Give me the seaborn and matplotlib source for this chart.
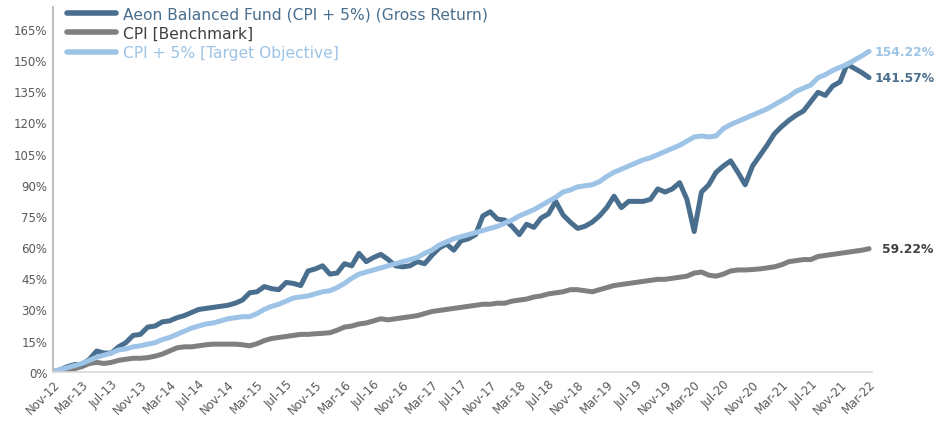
import pandas as pd
import seaborn as sns
import matplotlib.pyplot as plt
from matplotlib.ticker import FuncFormatter

# monthly cumulative returns (%), Nov-12 .. Mar-22
months = pd.date_range("2012-11-01", "2022-03-01", freq="MS")

fund = [0, 1, 2.5, 3.5, 3.5, 6, 10, 9, 9, 12, 14, 17.5, 18, 21.5, 22, 24, 24.5, 26, 27, 28.5,
        30, 30.5, 31, 31.5, 32, 33, 34.5, 38, 38.5, 41, 40, 39.5, 43, 42.5, 41.5, 48.5, 49.5, 51, 47, 47.5,
        52, 51, 57, 53, 55, 56.5, 54, 51, 50.5, 51, 53, 52, 56, 59.5, 61.5, 58.5, 63, 64, 66, 75,
        77, 73.5, 73, 70, 66, 71, 69.5, 74, 76, 82, 75.5, 72, 69, 70, 72, 75, 79, 84.5, 79, 82,
        82, 82, 83, 88, 86.5, 88, 91, 83, 67.5, 86.5, 90, 96, 99, 101.5, 96, 90, 99, 104, 109, 114.5,
        118, 121, 123.5, 125.5, 130, 134.5, 133, 137.5, 139.5, 148, 146, 144, 141.57]

cpi = [0, 0, 0.5, 1.5, 2.5, 4, 4.5, 4, 4.5, 5.5, 6, 6.5, 6.5, 6.8, 7.5, 8.5, 10, 11.5, 12, 12,
       12.5, 13, 13.3, 13.3, 13.3, 13.3, 13, 12.5, 13.5, 15, 16, 16.5, 17, 17.5, 18, 18, 18.3, 18.5, 18.8, 20,
       21.5, 22, 23, 23.5, 24.5, 25.5, 25, 25.5, 26, 26.5, 27, 28, 29, 29.5, 30, 30.5, 31, 31.5, 32, 32.5,
       32.5, 33, 33, 34, 34.5, 35, 36, 36.5, 37.5, 38, 38.5, 39.5, 39.5, 39, 38.5, 39.5, 40.5, 41.5, 42, 42.5,
       43, 43.5, 44, 44.5, 44.5, 45, 45.5, 46, 47.5, 48, 46.5, 46, 47, 48.5, 49, 49, 49.2, 49.5, 50, 50.5,
       51.5, 53, 53.5, 54, 54, 55.5, 56, 56.5, 57, 57.5, 58, 58.5, 59.22]

target = [0, 1, 2, 3, 4, 5.5, 7, 8, 9, 10.5, 11, 12, 12.5, 13.3, 14, 15.5, 16.5, 18, 19.5, 21,
          22, 23, 23.5, 24.5, 25.5, 26, 26.5, 26.5, 28, 30, 31.5, 32.5, 34, 35.5, 36, 36.5, 37.5, 38.5, 39, 40.5,
          42.5, 45, 47, 48, 49, 50, 51, 52, 53, 54, 55, 57, 58.5, 61, 62.5, 64, 65, 66, 67, 68,
          69, 70, 71.5, 73, 75, 76.5, 78, 80, 82, 84, 86.5, 87.5, 89, 89.5, 90, 91.5, 94, 96, 97.5, 99,
          100.5, 102, 103, 104.5, 106, 107.5, 109, 111, 113, 113.5, 113, 113.5, 117, 119, 120.5, 122, 123.5, 125, 126.5, 128.5,
          130.5, 132.5, 135, 136.5, 138, 141.5, 143, 145, 146.5, 148, 150, 152, 154.22]

labels = ["Aeon Balanced Fund (CPI + 5%) (Gross Return)", "CPI [Benchmark]", "CPI + 5% [Target Objective]"]
colors = ["#4a6f8e", "#7f7f7f", "#9dc3e6"]
text_colors = ["#4a6f8e", "#404040", "#9dc3e6"]
yticks = list(range(0, 166, 15))

idx = list(range(len(months)))
df = pd.DataFrame({
    "idx": idx * 3,
    "value": fund + cpi + target,
    "series": [labels[0]] * len(idx) + [labels[1]] * len(idx) + [labels[2]] * len(idx),
})

sns.set_style("white")
plt.rcParams["font.family"] = ["DejaVu Sans"]

fig = plt.figure(figsize=(9.36, 4.27), dpi=100)
ax = fig.add_axes([0.0566, 0.127, 0.875, 0.854])

sns.lineplot(data=df, x="idx", y="value", hue="series", hue_order=[labels[1], labels[0], labels[2]],
             palette={l: c for l, c in zip(labels, colors)}, linewidth=3.6, ax=ax, legend=False)

ax.set_xlim(0, 112.4)
ax.set_ylim(0, 175.5)
ax.set_yticks(yticks)
ax.yaxis.set_major_formatter(FuncFormatter(lambda v, p: f"{v:.0f}%"))
ax.set_xticks(idx[::4])
ax.set_xticklabels([m.strftime("%b-%y") for m in months[::4]], rotation=45, ha="right",
                   rotation_mode="anchor")
ax.tick_params(axis="both", labelsize=8.5, labelcolor="#595959", length=0, pad=4)
ax.set_xlabel("")
ax.set_ylabel("")

for s in ["top", "right"]:
    ax.spines[s].set_visible(False)
ax.spines["left"].set_color("#bfbfbf")
ax.spines["left"].set_linewidth(1.5)
ax.spines["bottom"].set_color("#d9d9d9")
ax.spines["bottom"].set_linewidth(1.2)

# legend
handles = [plt.Line2D([], [], color=c, linewidth=4) for c in colors]
leg = ax.legend(handles, labels, loc="upper left", bbox_to_anchor=(0.01, 1.02), frameon=False,
                fontsize=11.2, handlelength=3.1, handletextpad=0.5, labelspacing=0.3, borderaxespad=0)
for t, c in zip(leg.get_texts(), text_colors):
    t.set_color(c)

# end labels
ax.annotate(f"{target[-1]:.2f}%", (idx[-1], target[-1]), xytext=(4, 0), textcoords="offset points",
            va="center", ha="left", fontsize=8.9, fontweight="bold", color=text_colors[2], annotation_clip=False)
ax.annotate(f"{fund[-1]:.2f}%", (idx[-1], fund[-1]), xytext=(4, 0), textcoords="offset points",
            va="center", ha="left", fontsize=8.9, fontweight="bold", color=text_colors[0], annotation_clip=False)
ax.annotate(f"{cpi[-1]:.2f}%", (idx[-1], cpi[-1]), xytext=(9, 0), textcoords="offset points",
            va="center", ha="left", fontsize=8.9, fontweight="bold", color=text_colors[1], annotation_clip=False)

fig.savefig("out.png", dpi=100)
